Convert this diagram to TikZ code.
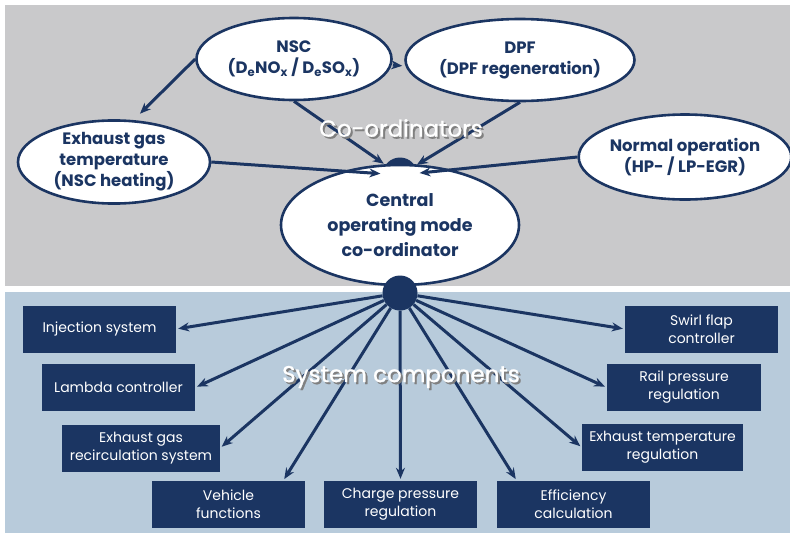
\documentclass[tikz,border=0pt]{standalone}
\usepackage{fontspec}
\setmainfont{Poppins}
\usetikzlibrary{arrows.meta,shapes.geometric}
\definecolor{navy}{HTML}{1B3562}
\definecolor{topgrey}{HTML}{C9C9CB}
\definecolor{botblue}{HTML}{B8CBDB}
\newcommand{\shadowed}[1]{\rlap{\kern2pt\lower2pt\hbox{\color{black!50}#1}}#1}

\begin{document}
\begin{tikzpicture}[x=1pt,y=-1pt,
  coord/.style={ellipse,draw=navy,line width=2.6pt,fill=white,inner sep=0pt,align=center,text=navy,font=\fontsize{16.5}{21}\selectfont\bfseries},
  comp/.style={fill=navy,text=white,minimum width=153pt,minimum height=47pt,inner sep=0pt,align=center,font=\fontsize{14}{18}\selectfont},
  hub/.style={circle,fill=navy,minimum size=35pt,inner sep=0pt},
  arr/.style={-{Stealth[length=11pt,width=9pt]},line width=3pt,navy,shorten >=2pt},
  areatext/.style={text=white,font=\fontsize{23}{26}\selectfont\addfontfeature{FakeBold=1}}]
  \useasboundingbox (0,0) rectangle (790,533);
  % background areas
  \fill[white] (0,0) rectangle (790,533);
  \fill[topgrey] (5,5) rectangle (790,286);
  \fill[botblue] (5,292) rectangle (790,533);
  % co-ordinators
  \node[hub] (hubtop) at (400,175) {};
  \node[coord,minimum width=195pt,minimum height=82pt] (nsc) at (294,59) {NSC\\(D\textsubscript{e}NO\textsubscript{x} / D\textsubscript{e}SO\textsubscript{x})};
  \node[coord,minimum width=185pt,minimum height=82pt] (dpf) at (520,60) {DPF\\(DPF regeneration)};
  \node[coord,minimum width=192pt,minimum height=80pt] (exh) at (114,162) {Exhaust gas\\temperature\\(NSC heating)};
  \node[coord,minimum width=185pt,minimum height=85pt] (norm) at (685,157) {Normal operation\\(HP- / LP-EGR)};
  \node[coord,minimum width=238pt,minimum height=120pt,font=\fontsize{17.5}{25}\selectfont\bfseries] (central) at (400,225) {Central\\operating mode\\co-ordinator};
  \node[hub] (hubbot) at (400,293) {};
  \draw[arr] ([yshift=-6pt]nsc.east) -- ([yshift=-6pt]dpf.west);
  \draw[arr,shorten >=9pt] (nsc.west) -- (exh.65);
  \draw[arr] (nsc.south) -- (hubtop); \draw[arr] (dpf.south) -- (hubtop);
  \draw[arr] (exh.east) -- (hubtop); \draw[arr] (norm.west) -- (hubtop);
  % system components
  \node[comp] (inj) at (99.5,329) {Injection system};
  \node[comp] (lam) at (118.5,387.5) {Lambda controller};
  \node[comp,minimum width=158pt] (egr) at (141,448) {Exhaust gas\\recirculation system};
  \node[comp] (veh) at (228.5,504.5) {Vehicle\\functions};
  \node[comp] (chg) at (400.5,504.5) {Charge pressure\\regulation};
  \node[comp] (eff) at (573.5,504.5) {Efficiency\\calculation};
  \node[comp,minimum width=161pt] (ext) at (662.5,447.5) {Exhaust temperature\\regulation};
  \node[comp,minimum width=154pt] (rail) at (684,387.5) {Rail pressure\\regulation};
  \node[comp] (swirl) at (701.5,329) {Swirl flap\\controller};
  \draw[arr] (hubbot) -- (inj.east); \draw[arr] (hubbot) -- (lam.east); \draw[arr] (hubbot) -- (egr.east);
  \draw[arr] (hubbot) -- ([xshift=-22pt]veh.north east); \draw[arr] (hubbot) -- (chg.north);
  \draw[arr] (hubbot) -- ([xshift=20pt]eff.north west); \draw[arr] (hubbot) -- (ext.west);
  \draw[arr] (hubbot) -- (rail.west); \draw[arr] (hubbot) -- (swirl.west);
  % area titles
  \node[areatext] (cotitle) at (401,129) {\shadowed{Co-ordinators}};
  \node[areatext] (systitle) at (401,378) {\shadowed{System components}};
\end{tikzpicture}
\end{document}
